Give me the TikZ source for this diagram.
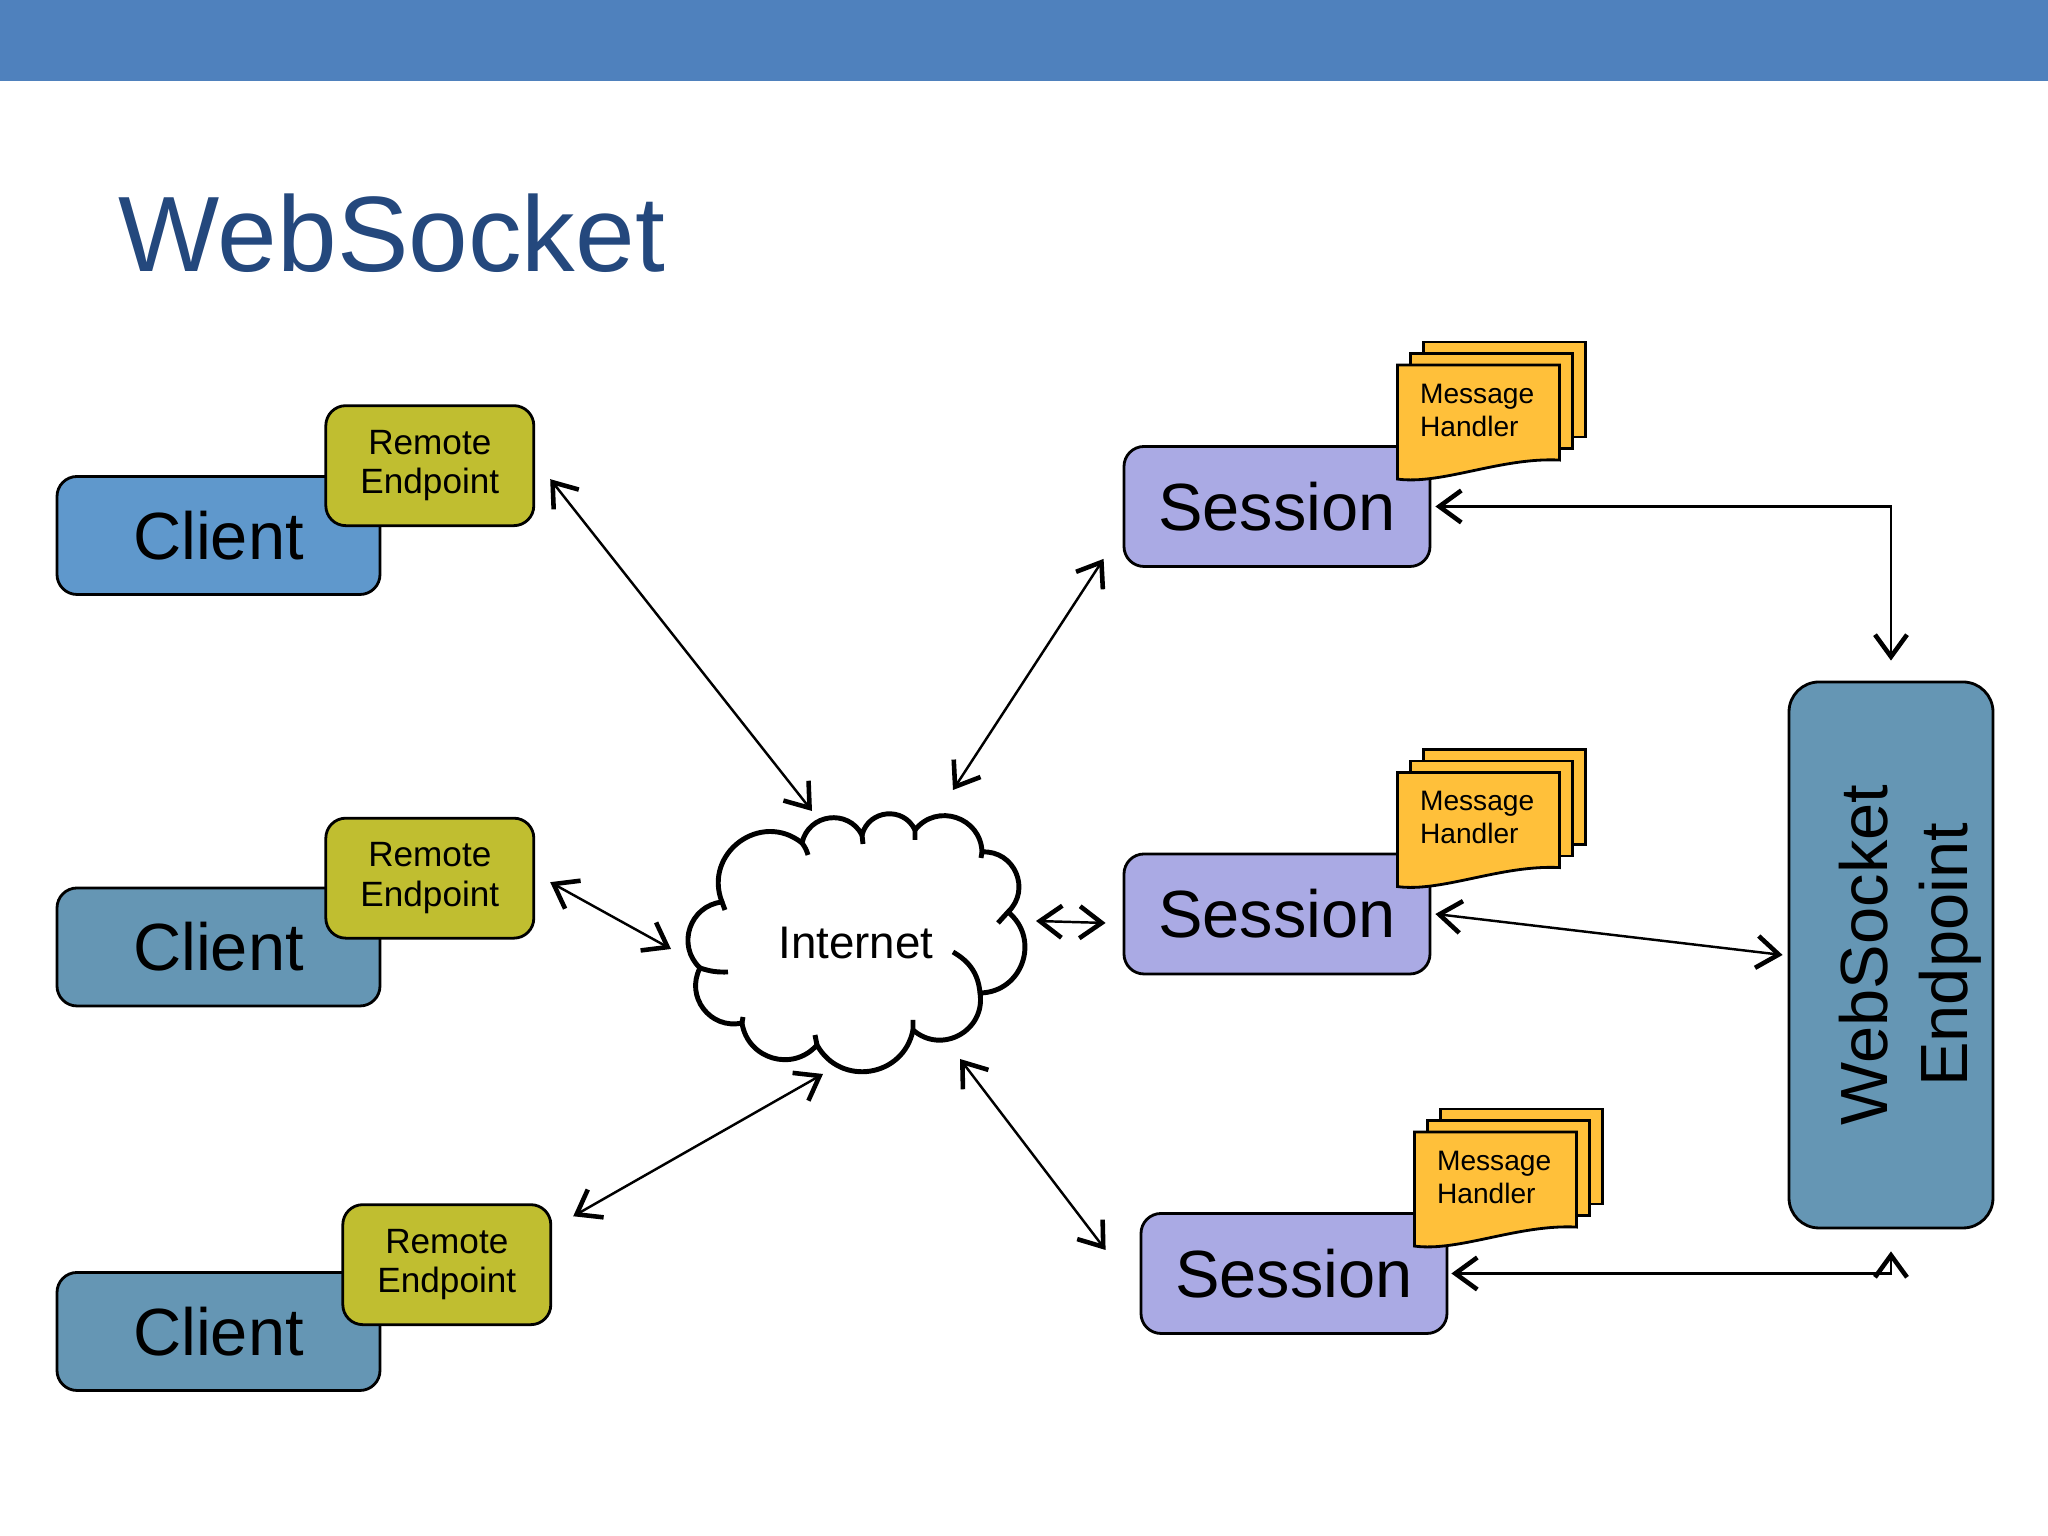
\documentclass[tikz,border=0pt]{standalone}
\usepackage{fontspec}
\setmainfont{Liberation Sans}
\usetikzlibrary{positioning,arrows.meta}
\definecolor{barblue}{RGB}{79,129,189}
\definecolor{titleblue}{RGB}{36,72,125}
\definecolor{clientblue}{RGB}{95,152,204}
\definecolor{clientgrey}{RGB}{101,150,180}
\definecolor{remoteolive}{RGB}{192,190,48}
\definecolor{sessionlilac}{RGB}{170,170,228}
\definecolor{handlergold}{RGB}{255,192,58}
\begin{document}
\begin{tikzpicture}[
    box/.style={draw=black, line width=0.8pt, rounded corners=2mm, align=center},
    client_node/.style={box, fill=clientgrey, minimum width=3.23cm, minimum height=1.18cm, font=\fontsize{19}{22.8}\selectfont},
    remote_node/.style={box, fill=remoteolive, minimum width=2.08cm, minimum height=1.2cm, font=\fontsize{10}{11.2}\selectfont},
    session_node/.style={box, fill=sessionlilac, minimum width=3.06cm, minimum height=1.2cm, font=\fontsize{19}{22.8}\selectfont},
    endpoint_node/.style={box, rounded corners=3mm, fill=clientgrey, minimum width=2.04cm, minimum height=5.46cm},
    page/.style={draw=black, line width=0.8pt, fill=handlergold},
    handler_text/.style={inner sep=0pt, align=left, font=\fontsize{8}{9.4}\selectfont},
    link_arrow/.style={{Straight Barb[length=2.2mm,width=3.2mm,line width=1.3pt]}-{Straight Barb[length=2.2mm,width=3.2mm,line width=1.3pt]}, line width=0.7pt}
  ]
  \useasboundingbox (0,0) rectangle (20.48,15.36);
  \fill[barblue] (0,14.55) rectangle (20.48,15.36);
  \node[anchor=base west, inner sep=0pt, text=titleblue, font=\fontsize{30.5}{36}\selectfont] (title) at (1.18,12.64) {WebSocket};

  % clients and their remote endpoints
  \node[client_node, fill=clientblue] (client1) at (2.185,10.005) {Client};
  \node[client_node] (client2) at (2.185,5.89) {Client};
  \node[client_node] (client3) at (2.185,2.045) {Client};
  \node[remote_node, above right=-5.2mm and -5.7mm of client1] (remote1) {Remote\\Endpoint};
  \node[remote_node, above right=-5.3mm and -5.7mm of client2] (remote2) {Remote\\Endpoint};
  \node[remote_node, above right=-5.5mm and -4.0mm of client3] (remote3) {Remote\\Endpoint};

  % internet cloud
  \node[minimum width=3.29cm, minimum height=2.55cm, font=\fontsize{13}{15}\selectfont] (net) at (8.56,5.93) {Internet};
  \begin{scope}[shift={(net.center)}, line width=1.4pt, line join=round]
    \draw (-1.56,-0.25) to[out=136.6,in=186.6,looseness=1.2] (-1.34,0.41)
      to[out=111.4,in=141.4,looseness=1.35] (-0.54,1.00)
      to[out=77.6,in=117.6,looseness=1.27] (0.06,1.08)
      to[out=75.4,in=115.4,looseness=1.27] (0.59,1.13)
      to[out=51.8,in=91.8,looseness=1.27] (1.26,0.91)
      to[out=3.4,in=43.4,looseness=1.27] (1.52,0.31)
      to[out=-39.1,in=0.9,looseness=1.27] (1.24,-0.50)
      to[out=-81.1,in=-41.1,looseness=1.27] (0.57,-0.87)
      to[out=-101.1,in=-61.1,looseness=1.27] (-0.39,-1.02)
      to[out=228.7,in=278.7,looseness=1.2] (-1.14,-0.80)
      to[out=192.4,in=242.4,looseness=1.2] (-1.56,-0.25) -- cycle;
    % hooks
    \draw (-1.56,-0.25) to[bend right=10] (-1.28,-0.29)
      (-1.34,0.41) -- (-1.31,0.33)
      (-0.54,1.00) to[bend left=10] (-0.48,0.88)
      (0.06,1.08) -- (0.07,0.99)
      (0.59,1.13) -- (0.59,1.03)
      (1.26,0.91) -- (1.25,0.85)
      (1.52,0.31) -- (1.42,0.20)
      (1.24,-0.50) to[out=95,in=-30] (0.97,-0.09)
      (0.57,-0.87) -- (0.57,-0.77)
      (-0.39,-1.02) -- (-0.41,-0.92)
      (-1.14,-0.80) -- (-1.13,-0.74);
  \end{scope}

  % sessions
  \node[session_node] (s1) at (12.77,10.295) {Session};
  \node[session_node] (s2) at (12.77,6.22) {Session};
  \node[session_node] (s3) at (12.94,2.625) {Session};
  \foreach \s in {s1,s2,s3} {
    \begin{scope}[shift={(\s.north east)}]
      \draw[page] (-0.08,0.08) rectangle (1.54,1.03);
      \draw[page] (-0.21,-0.035) rectangle (1.41,0.915);
      \draw[page] (-0.34,0.80) -- (1.28,0.80) -- (1.28,-0.15)
        .. controls (0.7,-0.12) and (0.1,-0.40) .. (-0.34,-0.34) -- cycle;
      \node[handler_text, anchor=north west] (mh\s) at (-0.12,0.62) {Message\\Handler};
    \end{scope}
  }

  \node[endpoint_node] (ws) at (18.91,5.81) {};
  \node[rotate=90, align=center, font=\fontsize{19}{22.9}\selectfont] (wstext) at ([xshift=1.9mm]ws.center) {WebSocket\\Endpoint};

  % links
  \draw[link_arrow] ([shift={(0.15,-0.135)}]remote1.east) -- ([shift={(-0.44,1.32)}]net.center);
  \draw[link_arrow] ([shift={(0.15,-0.04)}]remote2.east) -- ([shift={(-1.85,-0.06)}]net.center);
  \draw[link_arrow] ([shift={(0.21,-0.13)}]remote3.north east) -- ([shift={(-0.33,-1.31)}]net.center);
  \draw[link_arrow] ([shift={(0.97,1.53)}]net.center) -- ([shift={(-0.19,0.09)}]s1.south west);
  \draw[link_arrow] ([shift={(1.80,0.22)}]net.center) -- ([shift={(-0.17,-0.09)}]s2.west);
  \draw[link_arrow] ([shift={(1.04,-1.16)}]net.center) -- ([shift={(-0.34,0.235)}]s3.west);
  \draw[link_arrow] ([xshift=0.4mm]s1.east) -| ([yshift=2mm]ws.north);
  \draw[link_arrow] ([xshift=0.4mm]s2.east) -- ([xshift=-0.5mm]ws.west);
  \draw[link_arrow] ([xshift=0.3mm]s3.east) -| ([yshift=-2.2mm]ws.south);
\end{tikzpicture}
\end{document}
